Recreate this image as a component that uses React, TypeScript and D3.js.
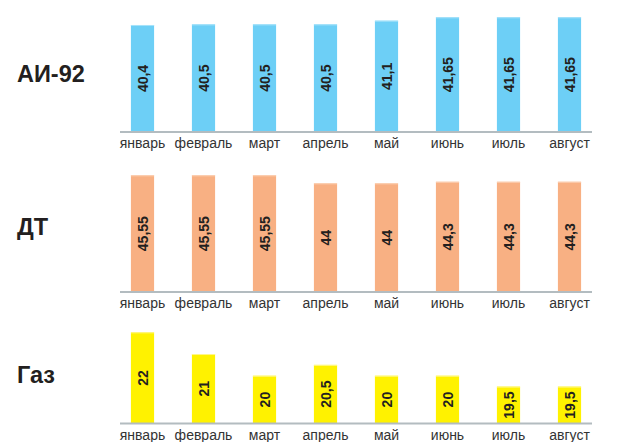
import React from "react";
import * as d3 from "d3";

const months = ["январь", "февраль", "март", "апрель", "май", "июнь", "июль", "август"];
const ai92 = [40.4, 40.5, 40.5, 40.5, 41.1, 41.65, 41.65, 41.65];
const dt = [45.55, 45.55, 45.55, 44, 44, 44.3, 44.3, 44.3];
const gas = [22, 21, 20, 20.5, 20, 20, 19.5, 19.5];

const W = 627;
const H = 442;

const fmt = (v: number) => String(v).replace(".", ",");

const x = d3.scaleBand<string>().domain(months).range([112, 600]).paddingInner(0.62).paddingOuter(0.31);

type Panel = {
  name: string;
  values: number[];
  color: string;
  light: string;
  base: number;
  domain: [number, number];
  top: number;
  nameY: number;
};

const panels: Panel[] = [
  { name: "АИ-92", values: ai92, color: "#6dcff6", light: "#a6e2fa", base: 132, domain: [23, 41.65], top: 17.3, nameY: 82 },
  { name: "ДТ", values: dt, color: "#f8b083", light: "#fbd0b3", base: 292, domain: [23, 45.55], top: 175.3, nameY: 235 },
  { name: "Газ", values: gas, color: "#fff200", light: "#fff78a", base: 423.5, domain: [17.8, 22], top: 332.3, nameY: 383 },
];

const font = "'Liberation Sans', Arial, sans-serif";

export default function App() {
  return (
    <svg width={W} height={H} style={{ position: "absolute", left: 0, top: 0, background: "#fff" }}>
      {panels.map((p) => {
        const y = d3.scaleLinear().domain(p.domain).range([p.base, p.top]);
        return (
          <g key={p.name}>
            <text x={17} y={p.nameY} fontFamily={font} fontWeight="bold" fontSize={23.5} fill="#231f20">
              {p.name}
            </text>
            {p.values.map((v, i) => {
              const bx = x(months[i])!;
              const bw = x.bandwidth();
              const by = y(v);
              const cx = bx + bw / 2;
              const cy = (by + p.base) / 2;
              return (
                <g key={i}>
                  <rect x={bx} y={by} width={bw} height={p.base - by} fill={p.color} />
                  <rect x={bx} y={by} width={bw} height={1} fill={p.light} />
                  <text
                    transform={`translate(${cx},${cy}) rotate(-90)`}
                    textAnchor="middle"
                    dy="0.36em"
                    fontFamily={font}
                    fontWeight="bold"
                    fontSize={14}
                    fill="#231f20"
                  >
                    {fmt(v)}
                  </text>
                  <text x={cx} y={p.base + 16} textAnchor="middle" fontFamily={font} fontSize={14} fill="#333">
                    {months[i]}
                  </text>
                </g>
              );
            })}
            <line x1={120} x2={592} y1={p.base} y2={p.base} stroke="#b3bcc0" strokeWidth={2} />
          </g>
        );
      })}
    </svg>
  );
}
